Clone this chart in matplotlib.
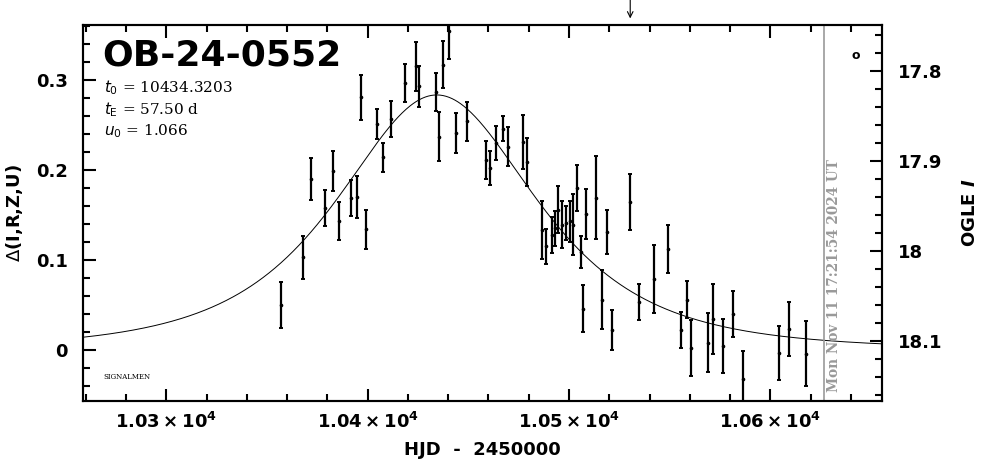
import numpy as np
import matplotlib
matplotlib.use("Agg")
import matplotlib.pyplot as plt
from matplotlib.ticker import MultipleLocator, FuncFormatter

# Event parameters (from the label)
event_name = "OB-24-0552"
t0 = 10434.3203
tE = 57.50
u0 = 1.066
I_base = 18.110   # OGLE I at zero excess

# Photometry: HJD-2450000, delta mag, error
hjd = [10356.8, 10367.7, 10371.8, 10378.8, 10382.9, 10385.7, 10391.7, 10394.5,
       10399.0, 10396.7, 10404.8, 10407.7, 10411.6, 10418.5, 10423.8, 10425.5,
       10433.8, 10435.6, 10437.6, 10440.5, 10443.9, 10449.5, 10458.6, 10460.8,
       10463.6, 10467.4, 10469.8, 10477.0, 10479.3, 10486.4, 10488.6, 10491.4,
       10493.2, 10494.7, 10496.7, 10498.4, 10500.5, 10502.1, 10503.8, 10505.8,
       10506.8, 10508.4, 10513.4, 10516.5, 10518.7, 10521.5, 10530.5, 10534.6,
       10542.4, 10549.3, 10555.6, 10558.5, 10560.5, 10569.2, 10571.4, 10576.7,
       10581.3, 10586.3, 10604.3, 10609.4, 10617.6]
delta = [0.050, 0.103, 0.190, 0.158, 0.199, 0.143, 0.169, 0.170,
         0.134, 0.281, 0.251, 0.214, 0.257, 0.297, 0.315, 0.293,
         0.287, 0.237, 0.317, 0.354, 0.241, 0.254, 0.211, 0.202,
         0.230, 0.246, 0.226, 0.231, 0.209, 0.133, 0.115, 0.128,
         0.135, 0.156, 0.139, 0.141, 0.143, 0.139, 0.180, 0.109,
         0.046, 0.151, 0.169, 0.056, 0.131, 0.022, 0.164, 0.053,
         0.079, 0.112, 0.022, 0.056, 0.002, 0.008, 0.034, 0.004,
         0.040, -0.032, -0.003, 0.023, -0.004]
err = [0.026, 0.024, 0.023, 0.020, 0.022, 0.021, 0.020, 0.023,
       0.022, 0.025, 0.017, 0.016, 0.020, 0.021, 0.027, 0.023,
       0.021, 0.027, 0.026, 0.031, 0.022, 0.022, 0.021, 0.019,
       0.019, 0.014, 0.022, 0.030, 0.027, 0.032, 0.019, 0.020,
       0.019, 0.026, 0.026, 0.019, 0.023, 0.034, 0.026, 0.018,
       0.026, 0.028, 0.046, 0.033, 0.024, 0.022, 0.031, 0.020,
       0.038, 0.027, 0.020, 0.021, 0.031, 0.033, 0.039, 0.030,
       0.026, 0.031, 0.030, 0.030, 0.036]

now_hjd = 10626.5
arrow_hjd = 10530.4
stamp = "Mon Nov 11 17:21:54 2024 UT"

xmin, xmax = 10258.6, 10655.6
ymin, ymax = -0.0567, 0.3611

fig = plt.figure(figsize=(9.86, 4.59), dpi=100)
ax = fig.add_axes([0.0842, 0.1264, 0.8106, 0.8192])

# model curve
t = np.linspace(xmin, xmax, 800)
u = np.sqrt(u0**2 + ((t - t0) / tE)**2)
A = (u**2 + 2) / (u * np.sqrt(u**2 + 4))
ax.plot(t, 2.5 * np.log10(A), color="black", lw=0.7)

ax.errorbar(hjd, delta, yerr=err, fmt="o", ms=1.6, color="black",
            ecolor="black", elinewidth=1.6, capsize=1.5, capthick=1.4)

ax.axvline(now_hjd, color="#999999", lw=1.2)
ax.text(now_hjd + 1.5, -0.047, stamp, rotation=90, color="#999999",
        fontsize=9.8, fontweight="bold", family="DejaVu Serif",
        ha="left", va="bottom")

ax.annotate("", xy=(arrow_hjd, 1.01), xytext=(arrow_hjd, 1.075),
            xycoords=("data", "axes fraction"),
            textcoords=("data", "axes fraction"),
            arrowprops=dict(arrowstyle="->", color="black", lw=0.8))

ax.set_xlim(xmin, xmax)
ax.set_ylim(ymin, ymax)

ax.text(0.024, 0.918, event_name, transform=ax.transAxes, fontsize=26,
        fontweight="bold", family="DejaVu Sans", va="center")
params = [r"$t_{\rm 0}$ = %.4f" % t0, r"$t_{\rm E}$ = %.2f d" % tE,
          r"$u_{\rm 0}$ = %.3f" % u0]
for i, s in enumerate(params):
    ax.text(0.026, 0.832 - i * 0.057, s, transform=ax.transAxes,
            fontsize=11, family="DejaVu Serif", va="center")
ax.text(0.026, 0.058, "SIGNALMEN", transform=ax.transAxes, fontsize=5,
        family="DejaVu Serif")
ax.text(0.967, 0.92, "o", transform=ax.transAxes, fontsize=9,
        fontweight="bold", ha="center", va="center")

ax.xaxis.set_major_locator(MultipleLocator(100))
ax.xaxis.set_minor_locator(MultipleLocator(20))
ax.yaxis.set_major_locator(MultipleLocator(0.1))
ax.yaxis.set_minor_locator(MultipleLocator(0.02))
ax.xaxis.set_major_formatter(FuncFormatter(
    lambda v, p: r"$\mathbf{%.2f\times10^{4}}$" % (v / 1e4)))
ax.yaxis.set_major_formatter(FuncFormatter(
    lambda v, p: "0" if abs(v) < 1e-9 else "%g" % round(v, 2)))

ax.tick_params(which="both", direction="in", top=True, right=False, width=1.5)
ax.tick_params(which="major", length=9)
ax.tick_params(which="minor", length=5)
ax.tick_params(axis="x", pad=8, labelsize=13)
ax.tick_params(axis="y", pad=11, labelsize=13)
for lab in ax.get_yticklabels():
    lab.set_fontweight("bold")
for sp in ax.spines.values():
    sp.set_linewidth(1.5)

ax.set_xlabel("HJD  -  2450000", fontsize=13, fontweight="bold", labelpad=6)
ax.set_ylabel(r"$\Delta$(I,R,Z,U)", fontsize=13, fontweight="bold", labelpad=8)

ax2 = ax.twinx()
ax2.set_ylim(I_base - ymin, I_base - ymax)
ax2.yaxis.set_major_locator(MultipleLocator(0.1))
ax2.yaxis.set_minor_locator(MultipleLocator(0.02))
ax2.yaxis.set_major_formatter(FuncFormatter(lambda v, p: "%g" % round(v, 2)))
ax2.tick_params(which="both", direction="in", width=1.5, pad=11, labelsize=13)
ax2.tick_params(which="major", length=9)
ax2.tick_params(which="minor", length=5)
for lab in ax2.get_yticklabels():
    lab.set_fontweight("bold")
ax2.set_ylabel(r"OGLE $\mathbfit{I}$", fontsize=13, fontweight="bold",
               labelpad=14)
for sp in ax2.spines.values():
    sp.set_linewidth(1.5)

fig.savefig("out.png", dpi=100)
